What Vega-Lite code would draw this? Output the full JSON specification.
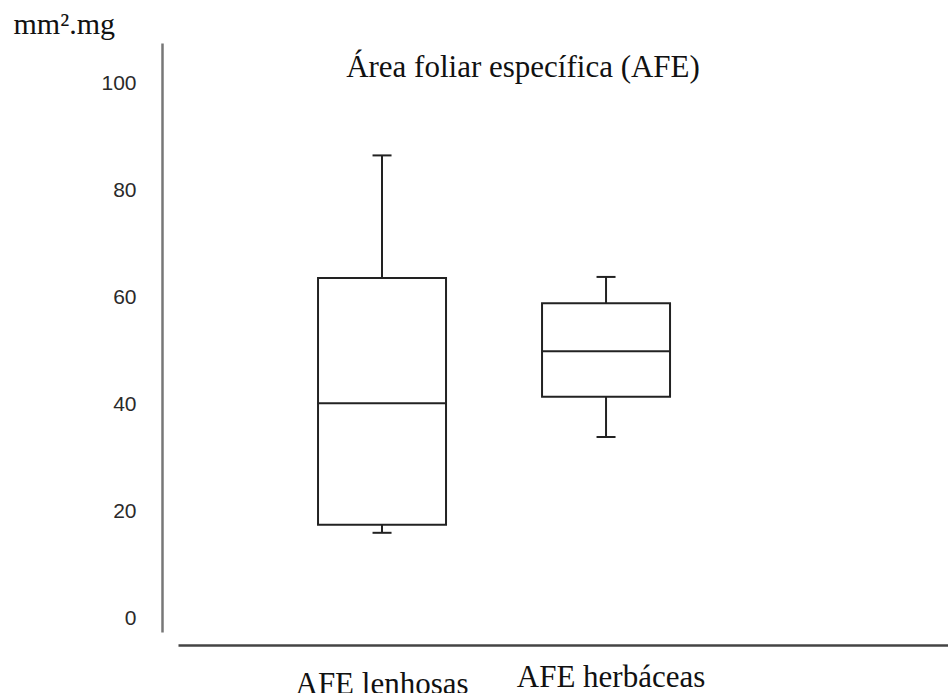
{
  "$schema": "https://vega.github.io/schema/vega-lite/v6.json",
  "autosize": "none",
  "width": 770,
  "height": 589,
  "padding": {"left": 178, "top": 43, "right": 0, "bottom": 61},
  "background": "white",
  "config": {"view": {"stroke": null}},
  "title": {
    "text": "Área foliar específica (AFE)",
    "font": "Liberation Serif",
    "fontSize": 31,
    "fontWeight": "normal",
    "color": "#111111",
    "anchor": "middle",
    "frame": "group",
    "baseline": "alphabetic",
    "offset": -32,
    "dx": -40,
    "dy": 67
  },
  "data": {
    "values": [
      {"grupo": "AFE lenhosas", "min": 16.1, "q1": 17.6, "median": 40.3, "q3": 63.7, "max": 86.6},
      {"grupo": "AFE herbáceas", "min": 34.0, "q1": 41.5, "median": 50.0, "q3": 59.0, "max": 63.9}
    ]
  },
  "encoding": {
    "x": {
      "field": "grupo",
      "type": "nominal",
      "sort": null,
      "scale": {"type": "band", "paddingInner": 0.4286, "paddingOuter": 0.933, "align": 0.335},
      "axis": {
        "title": null,
        "offset": 13,
        "domain": true,
        "domainColor": "#444444",
        "domainWidth": 2.5,
        "ticks": false,
        "grid": false,
        "labelAngle": 0,
        "labelLimit": 0,
        "labelFont": "Liberation Serif",
        "labelFontSize": 31,
        "labelColor": "#111111",
        "labelBaseline": "alphabetic",
        "labelPadding": {"condition": {"test": "datum.value == 'AFE herbáceas'", "value": 41}, "value": 48},
        "labelOffset": {"condition": {"test": "datum.value == 'AFE herbáceas'", "value": 5}, "value": 0}
      }
    }
  },
  "layer": [
    {
      "mark": {"type": "rule", "color": "#222222", "strokeWidth": 2},
      "encoding": {
        "y": {
          "field": "min",
          "type": "quantitative",
          "scale": {"domain": [-2.43, 107.6], "nice": false, "zero": false},
          "axis": {
            "title": "mm².mg",
            "titleAngle": 0,
            "titleFont": "Liberation Serif",
            "titleFontSize": 30,
            "titleFontWeight": "normal",
            "titleColor": "#111111",
            "titleAlign": "left",
            "titleBaseline": "alphabetic",
            "titleX": -149,
            "titleY": -10,
            "offset": 16,
            "values": [0, 20, 40, 60, 80, 100],
            "domain": true,
            "domainColor": "#777777",
            "domainWidth": 2.5,
            "ticks": false,
            "grid": false,
            "labelFont": "Liberation Sans",
            "labelFontSize": 21,
            "labelColor": "#2a2a2a",
            "labelPadding": 26
          }
        },
        "y2": {"field": "q1"}
      }
    },
    {
      "mark": {"type": "rule", "color": "#222222", "strokeWidth": 2},
      "encoding": {
        "y": {"field": "q3", "type": "quantitative"},
        "y2": {"field": "max"}
      }
    },
    {
      "mark": {"type": "bar", "fill": "white", "stroke": "#222222", "strokeWidth": 2},
      "encoding": {
        "y": {"field": "q1", "type": "quantitative"},
        "y2": {"field": "q3"}
      }
    },
    {
      "mark": {"type": "tick", "color": "#222222", "thickness": 2, "size": 129, "opacity": 1},
      "encoding": {
        "y": {"field": "median", "type": "quantitative"}
      }
    },
    {
      "mark": {"type": "tick", "color": "#222222", "thickness": 2, "size": 19, "opacity": 1},
      "encoding": {
        "y": {"field": "max", "type": "quantitative"}
      }
    },
    {
      "mark": {"type": "tick", "color": "#222222", "thickness": 2, "size": 19, "opacity": 1},
      "encoding": {
        "y": {"field": "min", "type": "quantitative"}
      }
    }
  ]
}
